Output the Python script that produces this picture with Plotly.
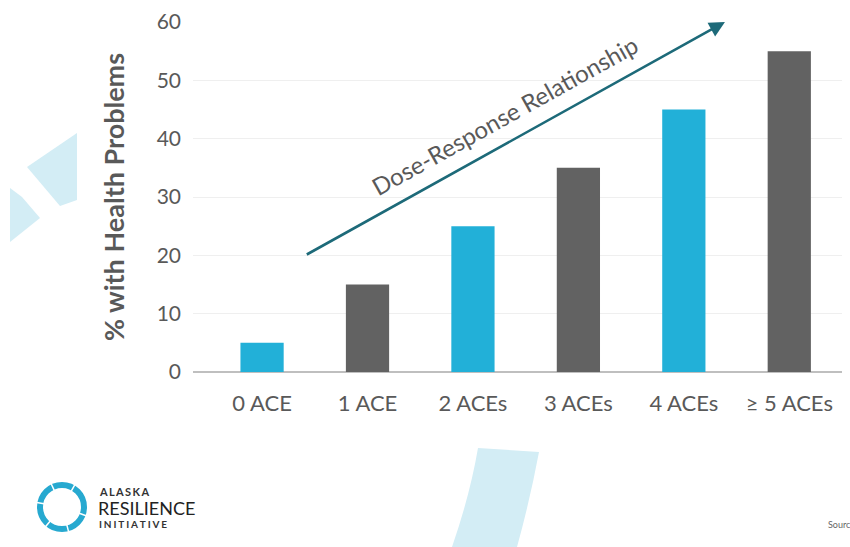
import plotly.graph_objects as go
import math

categories = ["0 ACE", "1 ACE", "2 ACEs", "3 ACEs", "4 ACEs", "\u2265 5 ACEs"]
values = [5, 15, 25, 35, 45, 55]
bar_colors = ["#22b0d8", "#626262", "#22b0d8", "#626262", "#22b0d8", "#626262"]
y_ticks = [0, 10, 20, 30, 40, 50, 60]

W, H = 850, 547
ML, MR, MT, MB = 193, 8, 22, 175
PW, PH = W - ML - MR, H - MT - MB

def px(x):
    return (x - ML) / PW

def py(y):
    return (H - MB - y) / PH

FONT = "Lato"
GRAY = "#595959"

fig = go.Figure()
fig.add_trace(go.Bar(
    x=list(range(len(categories))), y=values,
    marker=dict(color=bar_colors, line=dict(width=0)),
    width=0.41, showlegend=False, hoverinfo="skip",
))

shapes = []
deco = "#d3edf5"
# left decoration pieces
shapes.append(dict(type="path", xref="paper", yref="paper", layer="below",
                   path="M {},{} L {},{} L {},{} L {},{} Z".format(px(27), py(167), px(77), py(133), px(77), py(200), px(60), py(206)),
                   fillcolor=deco, line=dict(width=0)))
shapes.append(dict(type="path", xref="paper", yref="paper", layer="below",
                   path="M {},{} L {},{} L {},{} L {},{} Z".format(px(10), py(188), px(22), py(197), px(40), py(218), px(10), py(242)),
                   fillcolor=deco, line=dict(width=0)))
# bottom arc band
shapes.append(dict(type="path", xref="paper", yref="paper", layer="below",
                   path="M {},{} L {},{} Q {},{} {},{} L {},{} Q {},{} {},{} Z".format(
                       px(478), py(448), px(539), py(452),
                       px(530), py(500), px(517), py(547),
                       px(452), py(547),
                       px(470), py(495), px(478), py(448)),
                   fillcolor=deco, line=dict(width=0)))
# logo ring
cx, cy, r = 62, 507, 22
shapes.append(dict(type="circle", xref="paper", yref="paper",
                   x0=px(cx - r), x1=px(cx + r), y0=py(cy + r), y1=py(cy - r),
                   line=dict(color="#27a9d0", width=6)))
for ang in [20, 75, 130, 190, 245, 300]:
    a = math.radians(ang)
    x0, y0 = cx + (r - 5) * math.cos(a), cy + (r - 5) * math.sin(a)
    x1, y1 = cx + (r + 5) * math.cos(a), cy + (r + 5) * math.sin(a)
    shapes.append(dict(type="line", xref="paper", yref="paper",
                       x0=px(x0), y0=py(y0), x1=px(x1), y1=py(y1),
                       line=dict(color="white", width=1.5)))

def spaced(s, sep):
    return sep.join(s)

annotations = [
    dict(x=4.39, y=60, ax=0.41, ay=20, xref="x", yref="y", axref="x", ayref="y",
         showarrow=True, arrowhead=2, arrowsize=1.2, arrowwidth=2.6, arrowcolor="#1d6a79", text=""),
    dict(x=2.3, y=43.9, xref="x", yref="y", text="Dose-Response Relationship", showarrow=False,
         textangle=-29.1, font=dict(family=FONT, size=24, color=GRAY)),
    dict(x=px(97), y=py(491), xref="paper", yref="paper", xanchor="left", yanchor="middle",
         text="<b>" + spaced("ALASKA", "\u2009") + "</b>", showarrow=False, font=dict(family=FONT, size=11, color="#333333")),
    dict(x=px(96), y=py(508), xref="paper", yref="paper", xanchor="left", yanchor="middle",
         text="RESILIENCE", showarrow=False, font=dict(family=FONT, size=18, color="#222222")),
    dict(x=px(97), y=py(524), xref="paper", yref="paper", xanchor="left", yanchor="middle",
         text="<b>" + spaced("INITIATIVE", "\u2009\u200a") + "</b>", showarrow=False, font=dict(family=FONT, size=10, color="#333333")),
    dict(x=px(826), y=py(524), xref="paper", yref="paper", xanchor="left", yanchor="middle",
         text="Sourc", showarrow=False, font=dict(family=FONT, size=9, color="#666666")),
]

fig.update_layout(
    width=W, height=H,
    margin=dict(l=ML, r=MR, t=MT, b=MB),
    paper_bgcolor="white", plot_bgcolor="white",
    shapes=shapes, annotations=annotations,
    xaxis=dict(range=[-0.655, 5.5], tickmode="array", tickvals=list(range(len(categories))),
               ticktext=categories, showgrid=False, zeroline=False, showline=False,
               ticks="", tickfont=dict(family=FONT, size=22, color=GRAY), ticklabelstandoff=16,
               fixedrange=True),
    yaxis=dict(range=[0, 60], tickvals=y_ticks, showgrid=True, gridcolor="#efefef", gridwidth=1,
               zeroline=True, zerolinecolor="#bfbfbf", zerolinewidth=1.5, showline=False,
               ticks="", tickfont=dict(family=FONT, size=21, color=GRAY), ticklabelstandoff=11,
               title=dict(text="<b>% with Health Problems</b>", font=dict(family=FONT, size=27, color=GRAY), standoff=24),
               fixedrange=True),
)

fig.write_html("out.html")
